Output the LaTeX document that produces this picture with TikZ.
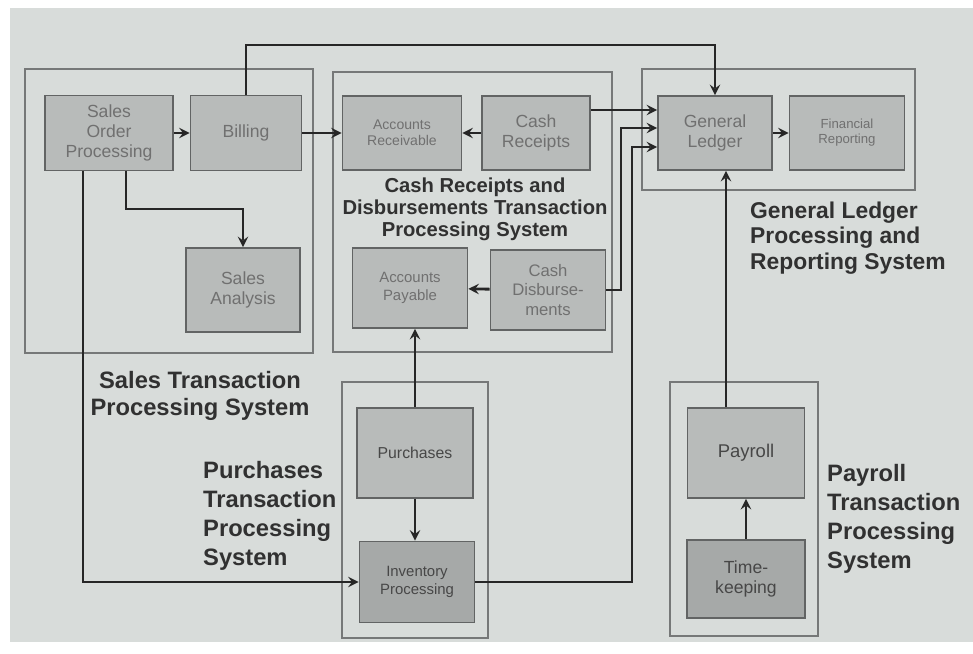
\documentclass[tikz,border=0pt]{standalone}
\usepackage{fontspec}
\setmainfont{Liberation Sans}
\usetikzlibrary{arrows}
\definecolor{paper}{RGB}{216,220,218}
\definecolor{procfill}{RGB}{184,187,186}
\definecolor{procdark}{RGB}{166,169,168}
\definecolor{procline}{RGB}{98,100,100}
\definecolor{sysline}{RGB}{118,120,120}
\definecolor{ink}{RGB}{38,38,38}
\definecolor{faded}{RGB}{112,112,112}
\tikzstyle{flow} = [line width=1.6pt, draw=ink, ->, >=stealth]
\tikzstyle{proc} = [draw=procline, line width=1pt, fill=procfill, text=faded, align=center, inner sep=1pt]
\tikzstyle{sysbox} = [draw=sysline, line width=1pt]
\tikzstyle{systitle} = [text=ink!95, font=\bfseries\fontsize{13.5}{15.5}\selectfont]

\begin{document}
\begin{tikzpicture}[x=0.02cm, y=-0.02cm]
  \useasboundingbox (0,0) rectangle (973,653);
  \fill[white] (0,0) rectangle (973,653);
  \fill[paper] (10,8) rectangle (973,642);

  % subsystem frames
  \draw[sysbox] (25,69) rectangle (313,353);
  \draw[sysbox] (333,72) rectangle (612,352);
  \draw[sysbox] (642,69) rectangle (915,190);
  \draw[sysbox] (342,382) rectangle (488,638);
  \draw[sysbox] (670,382) rectangle (818,636);

  % sales
  \node[proc, minimum width=2.56cm, minimum height=1.5cm, font=\fontsize{10}{11.5}\selectfont] (sop) at (109,133) {Sales\\Order\\Processing};
  \node[proc, minimum width=2.22cm, minimum height=1.5cm, font=\fontsize{10}{11.5}\selectfont] (bill) at (246,133) {Billing};
  \node[proc, minimum width=2.28cm, minimum height=1.68cm, font=\fontsize{10}{11.5}\selectfont] (sa) at (243,290) {Sales\\Analysis};

  % cash receipts and disbursements
  \node[proc, minimum width=2.38cm, minimum height=1.48cm, font=\fontsize{8}{9}\selectfont] (ar) at (402,133) {Accounts\\Receivable};
  \node[proc, minimum width=2.16cm, minimum height=1.48cm, font=\fontsize{10}{11.5}\selectfont] (cr) at (536,133) {Cash\\Receipts};
  \node[proc, minimum width=2.3cm, minimum height=1.6cm, font=\fontsize{8.5}{10}\selectfont] (ap) at (410,288) {Accounts\\Payable};
  \node[proc, minimum width=2.3cm, minimum height=1.6cm, font=\fontsize{9.5}{11}\selectfont] (cd) at (548,290) {Cash\\Disburse-\\ments};

  % general ledger
  \node[proc, minimum width=2.28cm, minimum height=1.48cm, font=\fontsize{10}{11.5}\selectfont] (gl) at (715,133) {General\\Ledger};
  \node[proc, minimum width=2.3cm, minimum height=1.48cm, font=\fontsize{7.5}{8.5}\selectfont] (fr) at (847,133) {Financial\\Reporting};

  % purchases and payroll
  \node[proc, minimum width=2.32cm, minimum height=1.8cm, text=ink!85, font=\fontsize{9}{10.5}\selectfont] (pur) at (415,453) {Purchases};
  \node[proc, fill=procdark, minimum width=2.3cm, minimum height=1.62cm, text=ink!85, font=\fontsize{8.5}{10}\selectfont] (inv) at (417,582) {Inventory\\Processing};
  \node[proc, minimum width=2.34cm, minimum height=1.8cm, text=ink!85, font=\fontsize{10.5}{12}\selectfont] (pay) at (746,453) {Payroll};
  \node[proc, fill=procdark, minimum width=2.36cm, minimum height=1.56cm, text=ink!85, font=\fontsize{10}{11.5}\selectfont] (time) at (746,579) {Time-\\keeping};

  % subsystem titles
  \node[systitle, align=center] (salesttl) at (200,396) {Sales Transaction\\Processing System};
  \node[systitle, align=center, font=\bfseries\fontsize{11.5}{12.5}\selectfont] (crdttl) at (475,209) {Cash Receipts and\\Disbursements Transaction\\Processing System};
  \node[systitle, align=left, anchor=west, font=\bfseries\fontsize{13}{14.5}\selectfont] (glttl) at (744,238) {General Ledger\\Processing and\\Reporting System};
  \node[systitle, align=left, anchor=west, font=\bfseries\fontsize{13.5}{16.5}\selectfont] (purttl) at (197,516) {Purchases\\Transaction\\Processing\\System};
  \node[systitle, align=left, anchor=west, font=\bfseries\fontsize{13.5}{16.5}\selectfont] (payttl) at (821,519) {Payroll\\Transaction\\Processing\\System};

  % turning points
  \coordinate (ceil) at (0,45);
  \coordinate (sarow) at (0,209);
  \coordinate (cdup) at (621,0);
  \coordinate (invup) at (632,0);
  \coordinate (payup) at (726,0);

  % connectors
  \draw[flow] (sop) -- (bill);
  \draw[flow] ([xshift=0.34cm]sop.south) |- (sa.north |- sarow) -- (sa.north);
  \draw[flow] ([xshift=-0.52cm]sop.south) |- (inv.west);
  \draw[flow] (bill.north) -- (bill.north |- ceil) -| (gl.north);
  \draw[flow] (bill) -- (ar);
  \draw[flow] (cr) -- (ar);
  \draw[flow] (cd) -- (ap);
  \draw[flow] ([yshift=0.46cm]cr.east) -- ([yshift=0.46cm]gl.west);
  \draw[flow] (cd.east) -- (cd.east -| cdup) |- ([yshift=0.1cm]gl.west);
  \draw[flow] (inv.east) -- (inv.east -| invup) |- ([yshift=-0.28cm]gl.west);
  \draw[flow] (gl) -- (fr);
  \draw[flow] (pur.north) -- (ap.south -| pur.north);
  \draw[flow] (pur.south) -- (inv.north -| pur.south);
  \draw[flow] (time) -- (pay);
  \draw[flow] (pay.north -| payup) -- (gl.south -| payup);
\end{tikzpicture}
\end{document}
